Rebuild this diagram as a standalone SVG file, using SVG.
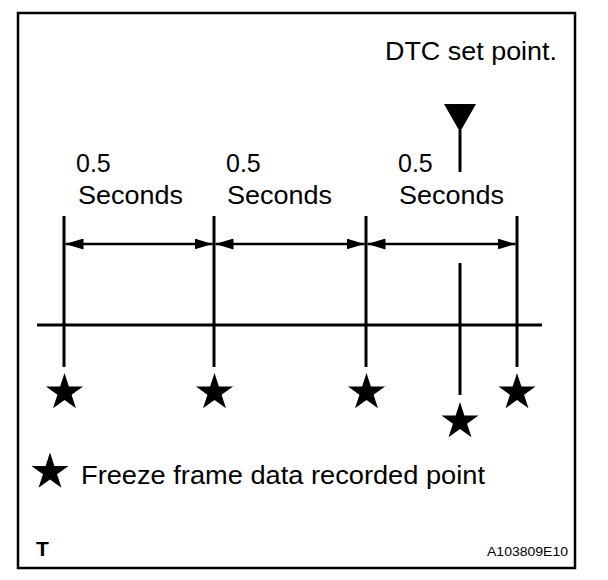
<svg xmlns="http://www.w3.org/2000/svg" xmlns:xlink="http://www.w3.org/1999/xlink" width="608" height="580" viewBox="0 0 608 580">
<style>
.t{font-family:"Liberation Sans",Arial,sans-serif;fill:#000}
.lbl{font-size:25px}
.ln{stroke:#000;stroke-width:3;fill:none}
.dim{stroke:#000;stroke-width:2.5;fill:none;marker-start:url(#ah);marker-end:url(#ah)}
</style>
<defs>
<marker id="ah" markerUnits="userSpaceOnUse" markerWidth="18" markerHeight="11" refX="18" refY="5.5" orient="auto-start-reverse" viewBox="0 0 18 11"><path d="M0,0 L18,5.5 L0,11 z" fill="#000"/></marker>
<polygon id="star" points="0,-19.5 4.38,-6.03 18.55,-6.03 7.08,2.3 11.47,15.78 0,7.45 -11.47,15.78 -7.08,2.3 -18.55,-6.03 -4.38,-6.03" fill="#000"/>
</defs>
<rect x="18" y="13" width="557" height="555" fill="#fff" stroke="#000" stroke-width="2.5"/>
<g id="connectors">
<line class="ln" x1="37" y1="325" x2="542" y2="325"/>
<line class="ln" x1="64" y1="216" x2="64" y2="367"/>
<line class="ln" x1="214" y1="216" x2="214" y2="367"/>
<line class="ln" x1="366" y1="216" x2="366" y2="367"/>
<line class="ln" x1="517" y1="216" x2="517" y2="367"/>
<line class="ln" x1="460" y1="130" x2="460" y2="172"/>
<line class="ln" x1="460" y1="263" x2="460" y2="395"/>
<line class="dim" x1="65.5" y1="244" x2="212.5" y2="244"/>
<line class="dim" x1="215.5" y1="244" x2="364.5" y2="244"/>
<line class="dim" x1="367.5" y1="244" x2="515.5" y2="244"/>
</g>
<g id="dtc-set-point">
<polygon points="444,104 476,104 460,132" fill="#000"/>
<text class="t lbl" x="385" y="60" textLength="172" lengthAdjust="spacingAndGlyphs">DTC set point.</text>
</g>
<g id="interval-1">
<text class="t lbl" x="76" y="172">0.5</text>
<text class="t lbl" x="78" y="204" textLength="105" lengthAdjust="spacingAndGlyphs">Seconds</text>
</g>
<g id="interval-2">
<text class="t lbl" x="226" y="172">0.5</text>
<text class="t lbl" x="227" y="204" textLength="105" lengthAdjust="spacingAndGlyphs">Seconds</text>
</g>
<g id="interval-3">
<text class="t lbl" x="398" y="172">0.5</text>
<text class="t lbl" x="399" y="204" textLength="105" lengthAdjust="spacingAndGlyphs">Seconds</text>
</g>
<g id="star-1"><use xlink:href="#star" x="64.5" y="392.5"/></g>
<g id="star-2"><use xlink:href="#star" x="214.5" y="392.5"/></g>
<g id="star-3"><use xlink:href="#star" x="366.5" y="392.5"/></g>
<g id="star-4"><use xlink:href="#star" x="460" y="421.5"/></g>
<g id="star-5"><use xlink:href="#star" x="517" y="392.5"/></g>
<g id="legend">
<use xlink:href="#star" x="50" y="472"/>
<text class="t lbl" x="81" y="484" textLength="404" lengthAdjust="spacingAndGlyphs">Freeze frame data recorded point</text>
</g>
<text class="t" x="36" y="556" font-size="21" font-weight="bold">T</text>
<text class="t" x="487" y="556" font-size="13" textLength="81" lengthAdjust="spacingAndGlyphs">A103809E10</text>
</svg>
